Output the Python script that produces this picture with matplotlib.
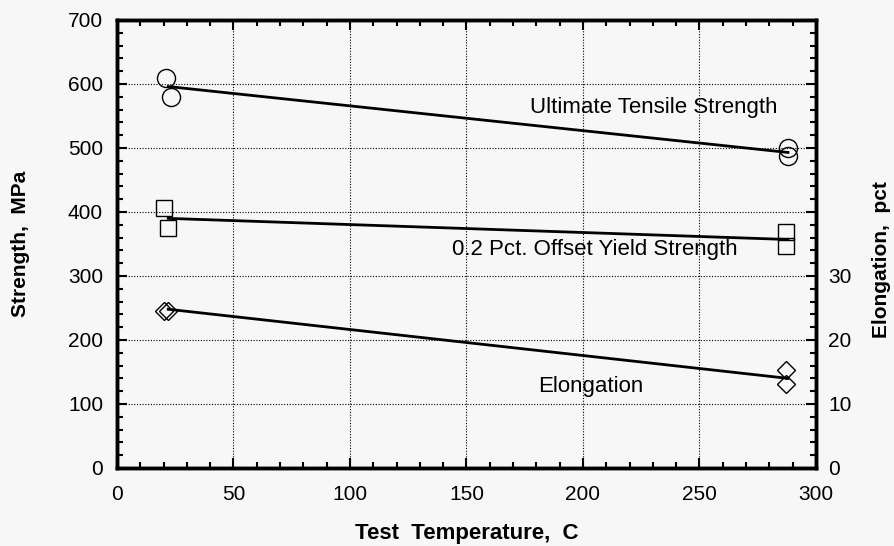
import matplotlib
matplotlib.use("Agg")
import matplotlib.pyplot as plt
from matplotlib.ticker import MultipleLocator, FuncFormatter

plt.rcParams['font.family'] = ['Liberation Sans', 'DejaVu Sans']

# measured points (temperature C, strength MPa / elongation pct)
uts_temp = [21, 23, 288, 288]
uts_val = [609, 580, 500, 487]
ys_temp = [20, 22, 287, 287]
ys_val = [406, 375, 369, 347]
el_temp = [20, 22, 287, 287]
el_val = [24.6, 24.6, 15.3, 13.1]

# trend lines (end points)
uts_fit_t = [22, 288]
uts_fit_v = [596, 493]
ys_fit_t = [22, 288]
ys_fit_v = [390, 357]
el_fit_t = [22, 288]
el_fit_v = [24.8, 14.0]

BG = "#f7f7f7"

fig = plt.figure(figsize=(8.95, 5.46), dpi=100, facecolor=BG)
ax = fig.add_axes([0.1307, 0.1429, 0.781, 0.8205])
ax.set_facecolor(BG)

mk = dict(mfc="none", mec="black", mew=1.0, ls="none", zorder=4)
ax.plot(uts_fit_t, uts_fit_v, color="black", lw=2.0, zorder=3)
ax.plot(uts_temp, uts_val, marker="o", ms=13, **mk)
ax.plot(ys_fit_t, ys_fit_v, color="black", lw=2.0, zorder=3)
ax.plot(ys_temp, ys_val, marker="s", ms=12, **mk)

ax.set_xlim(0, 300)
ax.set_ylim(0, 700)
ax.xaxis.set_major_locator(MultipleLocator(50))
ax.xaxis.set_minor_locator(MultipleLocator(10))
ax.yaxis.set_major_locator(MultipleLocator(100))
ax.yaxis.set_minor_locator(MultipleLocator(20))
ax.tick_params(which="both", direction="in", top=True, right=False, width=1.5)
ax.tick_params(which="major", length=7, labelsize=15)
ax.tick_params(axis="x", which="major", pad=12)
ax.tick_params(axis="y", which="major", pad=10)
ax.tick_params(which="minor", length=4)
ax.grid(True, which="major", color="black", ls=(0, (1, 1.5)), lw=0.8)
for sp in ax.spines.values():
    sp.set_linewidth(2.5)

ax.set_xlabel("Test  Temperature,  C", fontsize=16, fontweight="bold")
ax.xaxis.set_label_coords(0.5, -0.122)
ax.set_ylabel("Strength,  MPa", fontsize=15, fontweight="bold")
ax.yaxis.set_label_coords(-0.125, 0.5)

ax.text(230.5, 564, "Ultimate Tensile Strength", fontsize=16, ha="center", va="center")
ax.text(205, 341, "0.2 Pct. Offset Yield Strength", fontsize=16, ha="center", va="center")
ax.text(203.5, 128, "Elongation", fontsize=16, ha="center", va="center")

# right axis: elongation, pct
ax2 = ax.twinx()
ax2.set_ylim(0, 70)
ax2.plot(el_fit_t, el_fit_v, color="black", lw=2.0, zorder=3)
ax2.plot(el_temp, el_val, marker="D", ms=9, **mk)
ax2.yaxis.set_major_locator(MultipleLocator(10))
ax2.yaxis.set_minor_locator(MultipleLocator(2))
ax2.yaxis.set_major_formatter(FuncFormatter(lambda v, _: f"{v:.0f}" if v <= 30 else ""))
ax2.tick_params(which="both", direction="in", width=1.5)
ax2.tick_params(which="major", length=7, labelsize=15, pad=9)
ax2.tick_params(which="minor", length=4)
for sp in ax2.spines.values():
    sp.set_linewidth(2.5)
ax2.set_ylabel("Elongation,  pct", fontsize=15, fontweight="bold")
ax2.yaxis.set_label_coords(1.08, 0.465)

fig.savefig("out.png", dpi=100, facecolor=fig.get_facecolor())
